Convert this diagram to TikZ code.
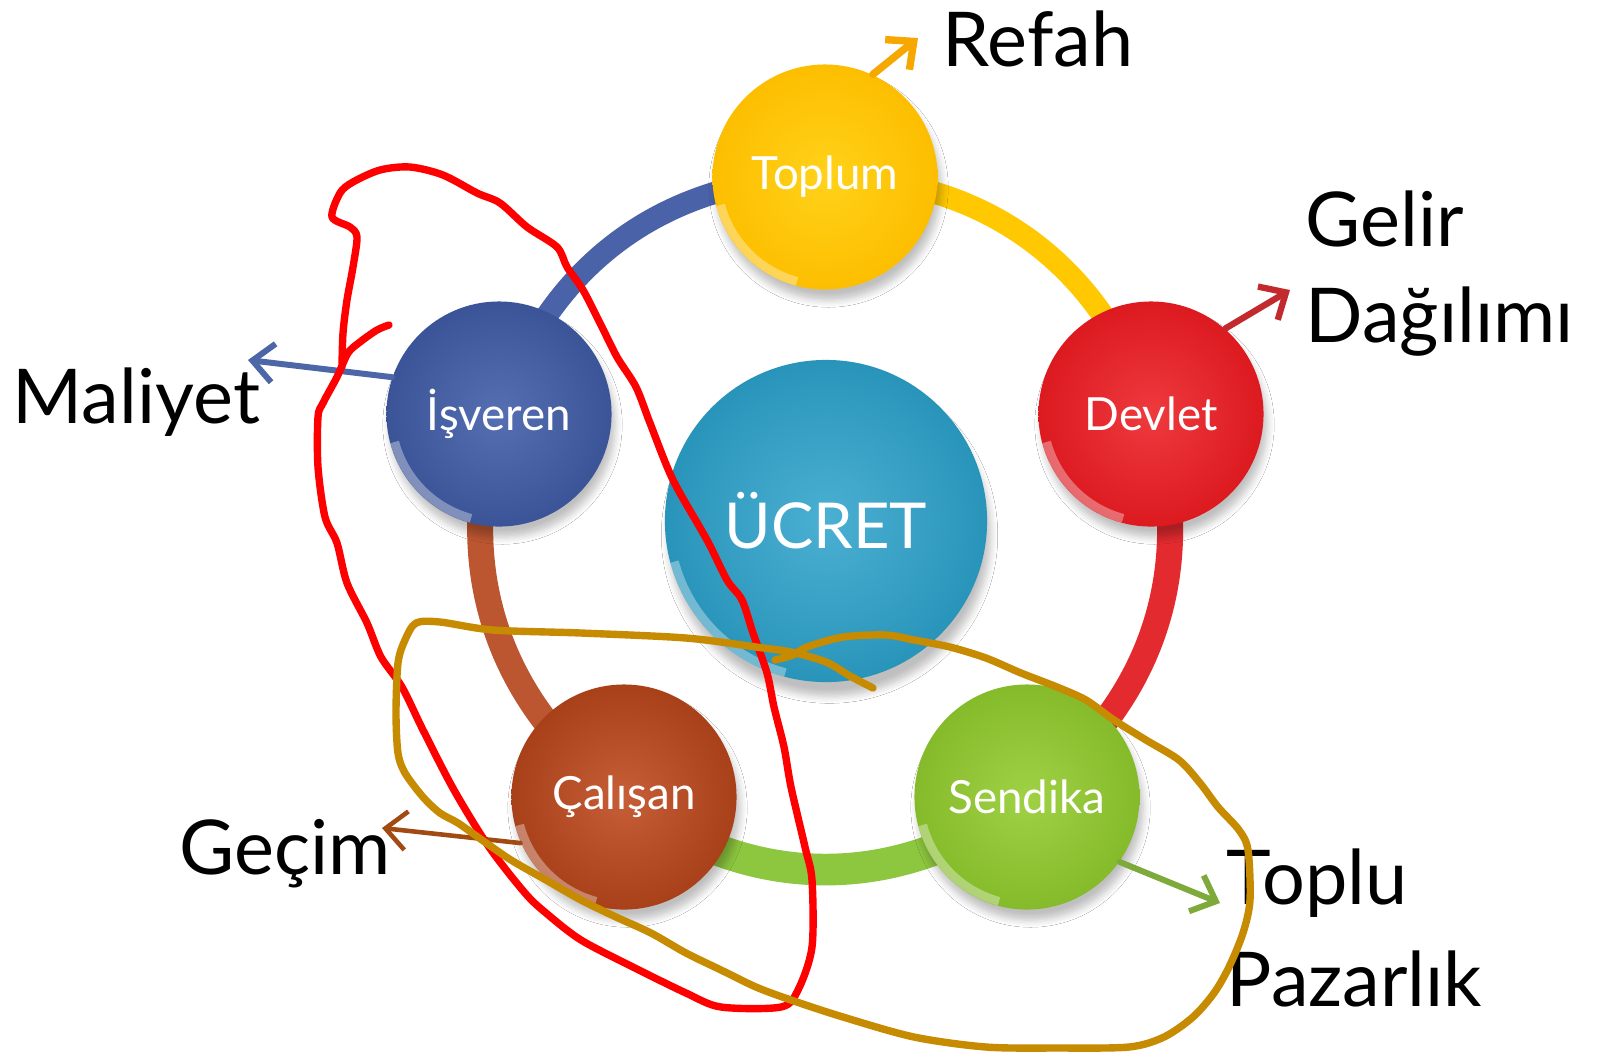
\documentclass[tikz,border=0pt]{standalone}
\usepackage{fontspec}
\setmainfont{Lato}
\usepackage{tikz}
\usetikzlibrary{arrows.meta, shadows.blur}
\pgfdeclarelayer{ring}
\pgfsetlayers{ring,main}

\definecolor{toplumout}{HTML}{FDBE00}
\definecolor{toplumin}{HTML}{FFD21A}
\definecolor{isverenout}{HTML}{3B5497}
\definecolor{isverenin}{HTML}{566EB2}
\definecolor{devletout}{HTML}{DC1A20}
\definecolor{devletin}{HTML}{EE3A3E}
\definecolor{calisanout}{HTML}{A8411A}
\definecolor{calisanin}{HTML}{C65E38}
\definecolor{sendikaout}{HTML}{85BB2B}
\definecolor{sendikain}{HTML}{A0D145}
\definecolor{ucretout}{HTML}{2994BA}
\definecolor{ucretin}{HTML}{4BB0D2}
\definecolor{yellowband}{HTML}{FFC800}
\definecolor{blueband}{HTML}{4A62A7}
\definecolor{brownband}{HTML}{BC5630}
\definecolor{redband}{HTML}{E22A2F}
\definecolor{greenband}{HTML}{8DC63F}
\definecolor{refahc}{HTML}{F6A800}
\definecolor{gelirc}{HTML}{C22A2E}
\definecolor{maliyetc}{HTML}{4D66A8}
\definecolor{gecimc}{HTML}{A14A12}
\definecolor{topluc}{HTML}{7DAA3A}
\definecolor{penred}{HTML}{FF0000}
\definecolor{pengold}{HTML}{C68B00}

\begin{document}
\begin{tikzpicture}[
    x=0.01cm, y=-0.01cm,
    bubble/.style 2 args={circle, minimum size=2.25cm, inner sep=0pt, text=white,
        font=\fontsize{13}{15}\selectfont, inner color=#2, outer color=#1,
        blur shadow={shadow xshift=1pt, shadow yshift=-3pt, shadow opacity=25, shadow blur steps=6},
        path picture={\draw[white, opacity=0.35, line width=2.5pt] (path picture bounding box.center) ++(-195:108) arc[start angle=-195, end angle=-255, radius=108];}},
    hub/.style={circle, minimum size=3.22cm, inner sep=0pt, text=white,
        font=\fontsize{18}{22}\selectfont, inner color=ucretin, outer color=ucretout,
        blur shadow={shadow xshift=1pt, shadow yshift=-4pt, shadow opacity=25, shadow blur steps=6},
        path picture={\draw[white, opacity=0.35, line width=2.5pt] (path picture bounding box.center) ++(-195:157) arc[start angle=-195, end angle=-255, radius=157];}},
    band/.style={line width=#1, line cap=butt},
    flow/.style={-{Straight Barb[length=6pt, width=11pt]}, line width=#1, line cap=round},
    lbl/.style={anchor=base west, inner sep=0pt, font=\fontsize{21.5}{26}\selectfont},
    scribble/.style={line width=2.1pt, line cap=round, line join=round}
]
\useasboundingbox (0,0) rectangle (1602,1056);

\node[bubble={toplumout}{toplumin}] (toplum) at (825,177) {Toplum};
\node[bubble={isverenout}{isverenin}] (isveren) at (499,414) {İşveren};
\node[bubble={devletout}{devletin}] (devlet) at (1151,414) {Devlet};
\node[bubble={calisanout}{calisanin}] (calisan) at (624,797) {Çalışan};
\node[bubble={sendikaout}{sendikain}] (sendika) at (1027,797) {Sendika};
\node[hub] (ucret) at (826,521) {ÜCRET};

% ring behind the circles
\begin{pgfonlayer}{ring}
\fill[white] (0,0) rectangle (1602,1056);
\draw[band=6.3pt, yellowband] (toplum.center) to[bend left=36] (devlet.center);
\draw[band=7.4pt, redband] (devlet.center) to[bend left=36] (sendika.center);
\draw[band=9pt, greenband] (sendika.center) to[bend left=38] (calisan.center);
\draw[band=7.4pt, brownband] (calisan.center) to[bend left=36] (isveren.center);
\draw[band=6.3pt, blueband] (isveren.center) to[bend left=36] (toplum.center);
\end{pgfonlayer}

\node[lbl] (refah) at (942,66) {Refah};
\node[lbl] (gelir) at (1305,246) {Gelir};
\node[lbl] (dagilimi) at (1305,342) {Dağılımı};
\node[lbl] (maliyet) at (12,423) {Maliyet};
\node[lbl] (gecim) at (179,874) {Geçim};
\node[lbl] (toplu) at (1226,904) {Toplu};
\node[lbl] (pazarlik) at (1226,1006) {Pazarlık};

\coordinate (refahtip) at (918,38);
\coordinate (gelirtip) at (1290,290);
\coordinate (maliyettip) at (248,360);
\coordinate (gecimtip) at (382,828);
\coordinate (toplutip) at (1220,903);

\draw[flow=2.1pt, refahc] (toplum.65) -- (refahtip);
\draw[flow=1.8pt, gelirc] (devlet.49) -- (gelirtip);
\draw[flow=1.7pt, maliyetc] (isveren.161) -- (maliyettip);
\draw[flow=1.3pt, gecimc] (calisan.204) -- (gecimtip);
\draw[flow=1.7pt, topluc] (sendika.-35) -- (toplutip);

% hand drawn marks
\draw[scribble, penred] plot[smooth, tension=0.5] coordinates {
    (389,325) (377,330) (360,342) (348,353) (337,377) (323,403) (318,417) (318,467)
    (325,517) (337,543) (347,583) (367,623) (381,657) (402,687) (423,730) (454,790)
    (489,847) (525,893) (546,913) (581,940) (633,967) (686,993) (721,1007) (781,1007)
    (798,990) (812,947) (812,880) (805,847) (791,787) (784,747) (774,707) (767,673)
    (753,633) (742,600) (727,580) (707,540) (673,480) (650,423) (636,387) (617,357)
    (600,323) (583,290) (567,267) (557,247) (527,227) (500,203) (477,193) (443,175)
    (410,167) (380,170) (353,182) (340,193) (332,217) (350,227) (357,237) (353,267)
    (347,300) (343,333) (342,367)};
\draw[scribble, pengold] plot[smooth, tension=0.5] coordinates {
    (873,688) (850,676) (826,662) (791,652) (756,647) (686,638) (581,633) (493,630)
    (440,622) (416,623) (405,640) (398,663) (396,713) (398,753) (405,773) (423,797)
    (440,813) (458,823) (482,840) (511,860) (546,880) (581,900) (616,917) (651,933)
    (686,953) (721,970) (756,987) (791,1000) (843,1017) (914,1037) (986,1047) (1057,1048)
    (1129,1047) (1164,1037) (1193,1017) (1214,993) (1229,967) (1243,933) (1250,900)
    (1248,850) (1239,830) (1218,807) (1200,783) (1179,760) (1146,740) (1114,720)
    (1086,700) (1057,687) (1021,673) (986,658) (950,647) (914,640) (886,635) (843,637)
    (807,647) (793,655) (775,660)};
\end{tikzpicture}
\end{document}
